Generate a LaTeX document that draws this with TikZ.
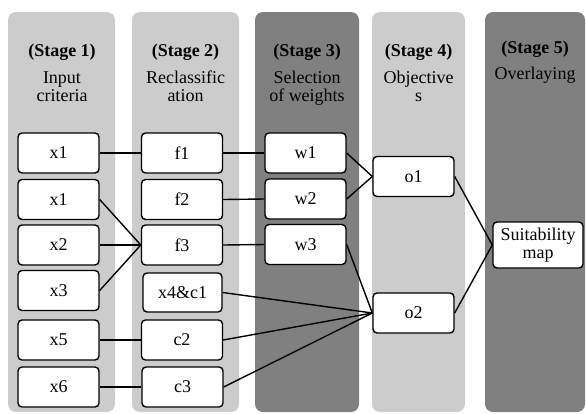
\documentclass[tikz,border=0pt]{standalone}
\usepackage{fontspec}
\setmainfont{Liberation Serif}
\definecolor{lightpanel}{HTML}{CCCCCC}
\definecolor{darkpanel}{HTML}{808080}
\begin{document}
\begin{tikzpicture}[x=1pt,y=-1pt,
  panel/.style={rounded corners=8pt},
  box/.style={draw, line width=1.4pt, rounded corners=4pt, fill=white,
    minimum width=81pt, minimum height=40pt, inner sep=0pt, align=center,
    font=\fontsize{18}{17.5}\selectfont},
  head/.style={anchor=base, inner sep=0pt, font=\fontsize{18}{18.5}\selectfont\bfseries},
  sub/.style={anchor=base, inner sep=0pt, font=\fontsize{18}{18.5}\selectfont},
  link/.style={line width=1.4pt}]
\useasboundingbox (0,0) rectangle (586,413);
% panels
\fill[panel, lightpanel] (8,12) rectangle (115,412);
\fill[panel, lightpanel] (132,12) rectangle (239,412);
\fill[panel, darkpanel] (255,12) rectangle (359,412);
\fill[panel, lightpanel] (372,12) rectangle (465,412);
\fill[panel, darkpanel] (485,12) rectangle (585,412);
% headers
\node[head] (h1) at (62,56.5) {(Stage 1)};
\node[sub] (h1a) at (62,83.3) {Input};
\node[sub] (h1b) at (62,101.7) {criteria};
\node[head] (h2) at (185.5,56.5) {(Stage 2)};
\node[sub] (h2a) at (185.5,83.3) {Reclassific};
\node[sub] (h2b) at (185.5,101.7) {ation};
\node[head] (h3) at (307,56.5) {(Stage 3)};
\node[sub] (h3a) at (307,83.3) {Selection};
\node[sub] (h3b) at (307,101.7) {of weights};
\node[head] (h4) at (418.5,56.5) {(Stage 4)};
\node[sub] (h4a) at (418.5,83.3) {Objective};
\node[sub] (h4b) at (418.5,101.7) {s};
\node[head] (h5) at (535,53.3) {(Stage 5)};
\node[sub] (h5a) at (535,79.3) {Overlaying};
% boxes
\node[box] (x1a) at (58.5,153) {x1};
\node[box] (x1b) at (58.5,199.5) {x1};
\node[box] (x2) at (58.5,245) {x2};
\node[box] (x3) at (58.5,290.5) {x3};
\node[box] (x5) at (58.5,340) {x5};
\node[box] (x6) at (58.5,387) {x6};
\node[box] (f1) at (182,153) {f1};
\node[box] (f2) at (182,199.5) {f2};
\node[box] (f3) at (182,245) {f3};
\node[box, minimum width=79pt, minimum height=39pt] (x4c1) at (182.5,292.5) {x4\&c1};
\node[box] (c2) at (182,340) {c2};
\node[box] (c3) at (182.5,387) {c3};
\node[box] (w1) at (305.5,153) {w1};
\node[box] (w2) at (305.5,199) {w2};
\node[box] (w3) at (305.5,244.5) {w3};
\node[box] (o1) at (413.5,176.5) {o1};
\node[box] (o2) at (413.5,313) {o2};
\node[box, minimum width=90pt, minimum height=46pt] (s) at (538,245) {Suitability\\map};
% connectors
\draw[link] (x1a.east) -- (f1.west);
\draw[link] (x1b.east) -- (f3.west);
\draw[link] (x2.east) -- (f3.west);
\draw[link] (x3.east) -- (f3.west);
\draw[link] (x5.east) -- (c2.west);
\draw[link] (x6.east) -- (c3.west);
\draw[link] (f1.east) -- (w1.west);
\draw[link] (f2.east) -- (w2.west);
\draw[link] (f3.east) -- (w3.west);
\draw[link] (w1.east) -- (o1.west);
\draw[link] (w2.east) -- (o1.west);
\draw[link] (w3.east) -- (o2.west);
\draw[link] (x4c1.east) -- (o2.west);
\draw[link] (c2.east) -- (o2.west);
\draw[link] (c3.east) -- (o2.west);
\draw[link] (o1.east) -- (s.west);
\draw[link] (o2.east) -- (s.west);
\end{tikzpicture}
\end{document}
